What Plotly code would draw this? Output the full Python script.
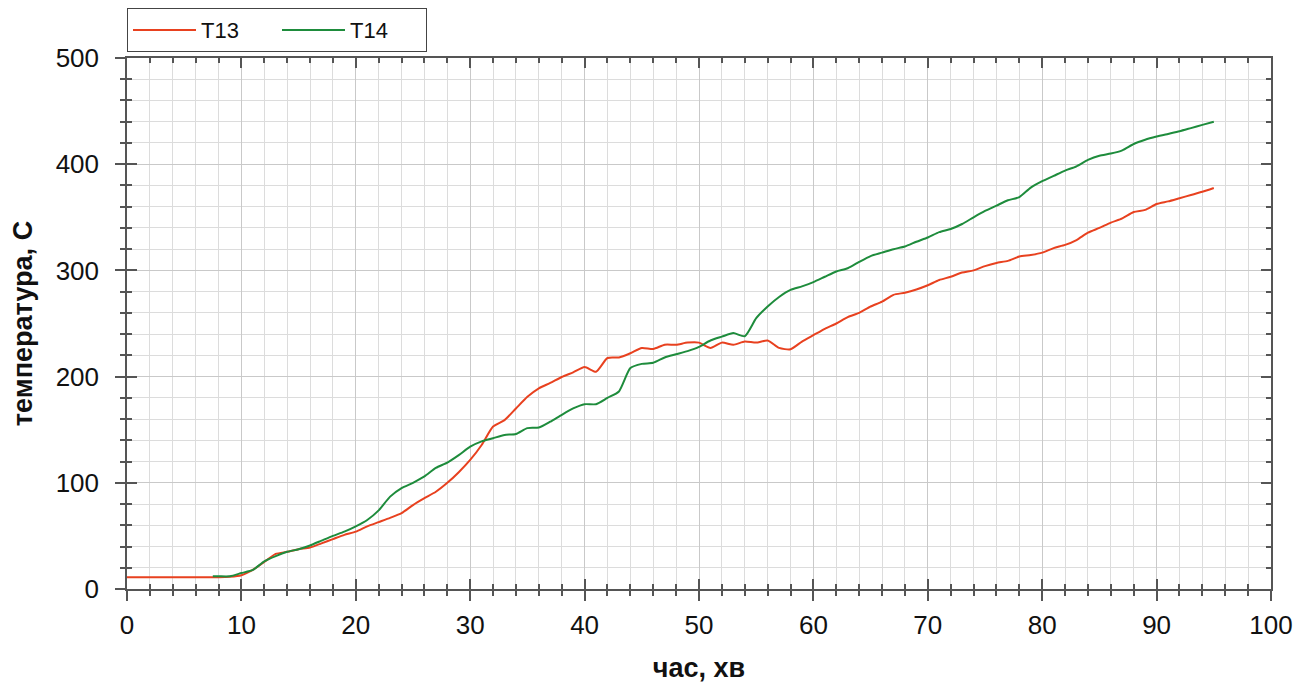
import plotly.graph_objects as go

t13_x = list(range(0, 96))
t13_y = [11, 11, 11, 11, 11, 11, 11, 11, 11, 11.5, 13, 18, 25.5, 33, 35, 37.5, 39, 43, 47, 51,
         54, 59, 63, 67, 71.5, 79, 85.5, 91.6, 100, 110, 121.5, 135.6, 153, 159, 170, 181, 189, 194, 199.6, 204,
         209, 204.6, 217.5, 218, 222, 227, 226, 230, 230, 232, 232, 227, 232, 230, 233, 232, 234, 227, 225.7, 233,
         239, 245, 250, 256, 260, 266, 270.5, 277, 279, 282, 286, 291, 294, 298, 300, 304, 307, 309, 313, 314.5,
         316.7, 321, 324, 328.6, 335.5, 340, 345, 349, 355, 357, 362.5, 365, 368, 371, 374, 377.6]

t14_x = [7.5] + list(range(8, 96))
t14_y = [12, 12, 12, 15, 18, 26, 31, 35, 37.5, 41, 45.5, 50, 54,
         59, 65, 74, 87, 95, 100, 106, 114, 119, 126, 134, 139, 142, 145, 146, 151.5, 152, 157.5, 164, 170,
         174, 174, 180, 186, 208, 212, 213, 218, 221, 224, 228, 234, 237.6, 241, 238, 255, 266, 275, 281.6, 285,
         289, 294, 299, 302, 308, 313.5, 316.7, 320, 322.5, 327, 331, 336, 339, 343.7, 350, 356, 361, 366, 369, 378,
         384, 389, 394, 398, 404, 408, 410, 413, 419, 423, 426, 428.5, 431, 434, 437, 440]

x_range = [0, 100]
y_range = [0, 500]

FONT = "Liberation Sans, Arial, sans-serif"
AXC = "#555555"
TXT = "#111111"

fig = go.Figure()
fig.add_trace(go.Scatter(x=t13_x, y=t13_y, name="T13", mode="lines",
                         line=dict(color="#e8411f", width=2, shape="spline", smoothing=0.6)))
fig.add_trace(go.Scatter(x=t14_x, y=t14_y, name="T14", mode="lines",
                         line=dict(color="#1e8c3c", width=2, shape="spline", smoothing=0.6)))
# empty helper trace so the inner-tick overlay axes are drawn
fig.add_trace(go.Scatter(x=[None], y=[None], xaxis="x2", yaxis="y2", showlegend=False,
                         hoverinfo="skip", mode="lines"))

fig.update_layout(
    width=1311, height=686,
    margin=dict(l=119, r=48, t=50, b=105, autoexpand=False),
    paper_bgcolor="white", plot_bgcolor="white",
    font=dict(family=FONT, size=26, color=TXT),
    showlegend=True,
    legend=dict(orientation="h", x=0, xanchor="left", y=1.094, yanchor="top",
                bordercolor="#444444", borderwidth=1, bgcolor="white",
                font=dict(family=FONT, size=22, color=TXT),
                itemwidth=63, entrywidth=71, tracegroupgap=0),
    xaxis=dict(range=x_range, dtick=10, tick0=0, ticks="outside", ticklen=10, tickwidth=1.5,
               tickcolor=AXC, showline=True, linecolor=AXC, linewidth=1.5,
               showgrid=True, gridcolor="#c9c9c9", gridwidth=1, zeroline=False,
               minor=dict(dtick=2, ticks="outside", ticklen=5, tickcolor=AXC, showgrid=True,
                          gridcolor="#dcdcdc", gridwidth=1),
               ticklabelstandoff=2,
               tickfont=dict(family=FONT, size=26, color=TXT),
               title=dict(text="<b>час, хв</b>", font=dict(family=FONT, size=27, color=TXT),
                          standoff=19)),
    yaxis=dict(range=y_range, dtick=100, tick0=0, ticks="outside", ticklen=10, tickwidth=1.5,
               tickcolor=AXC, showline=True, linecolor=AXC, linewidth=1.5,
               showgrid=True, gridcolor="#c9c9c9", gridwidth=1, zeroline=False,
               minor=dict(dtick=20, ticks="outside", ticklen=5, tickcolor=AXC, showgrid=True,
                          gridcolor="#dcdcdc", gridwidth=1),
               ticklabelstandoff=11,
               tickfont=dict(family=FONT, size=26, color=TXT),
               title=dict(text="<b>температура, С</b>", font=dict(family=FONT, size=27, color=TXT),
                          standoff=26)),
    xaxis2=dict(range=x_range, overlaying="x", side="bottom", dtick=10, tick0=0,
                ticks="inside", ticklen=10, tickwidth=1.5, tickcolor=AXC,
                showline=True, linecolor=AXC, linewidth=1.5, mirror="ticks",
                showticklabels=False, showgrid=False, zeroline=False,
                minor=dict(dtick=2, ticks="inside", ticklen=5, tickcolor=AXC, showgrid=False)),
    yaxis2=dict(range=y_range, overlaying="y", side="left", dtick=100, tick0=0,
                ticks="inside", ticklen=10, tickwidth=1.5, tickcolor=AXC,
                showline=True, linecolor=AXC, linewidth=1.5, mirror="ticks",
                showticklabels=False, showgrid=False, zeroline=False,
                minor=dict(dtick=20, ticks="inside", ticklen=5, tickcolor=AXC, showgrid=False)),
)

fig.write_html("out.html")
